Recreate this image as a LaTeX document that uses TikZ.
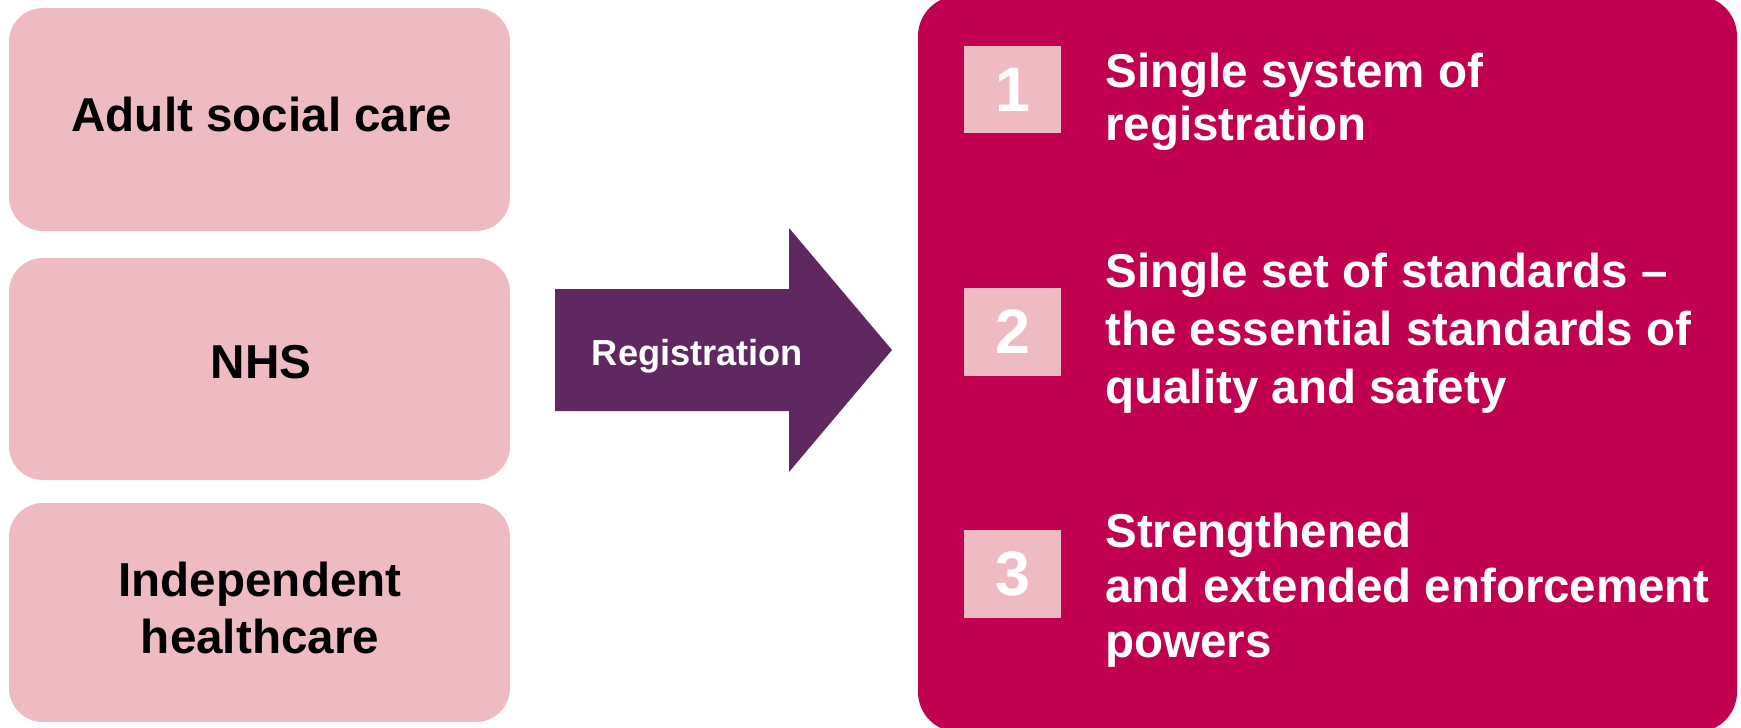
\documentclass[tikz,border=0pt]{standalone}
\usepackage{fontspec}
\setmainfont{Liberation Sans}
\definecolor{pinkbox}{RGB}{238,187,195}
\definecolor{magbox}{RGB}{194,0,80}
\definecolor{purparrow}{RGB}{95,40,97}
\tikzset{
  leftbox/.style={fill=pinkbox, draw=none, rounded corners=17pt, minimum width=250.5pt, inner sep=0pt, outer sep=0pt},
  lefttext/.style={font=\fontsize{23.8pt}{28.5pt}\selectfont\bfseries, text=black, inner sep=0pt},
  numbox/.style={fill=pinkbox, draw=none, minimum width=48.5pt, minimum height=44pt, inner sep=0pt, outer sep=0pt, text=white, font=\fontsize{31.4pt}{36pt}\selectfont\bfseries},
  itemtext/.style={font=\fontsize{23.75pt}{27.5pt}\selectfont\bfseries, text=white, inner sep=0pt},
  arrowtext/.style={font=\fontsize{18.1pt}{22pt}\selectfont\bfseries, text=white, inner sep=0pt}
}
\begin{document}
\begin{tikzpicture}[x=0.5pt,y=-0.5pt]
\useasboundingbox (0,0) rectangle (1741,728);
\clip (0,0) rectangle (1741,728);
\fill[white] (0,0) rectangle (1741,728);
% left boxes
\node[leftbox, minimum height=111.5pt] (b1) at (259.5,119.5) {};
\node[lefttext, anchor=base] (t1) at (262,131) {Adult social care};
\node[leftbox, minimum height=111pt] (b2) at (259.5,369) {};
\node[lefttext, anchor=base] (t2) at (261,378) {NHS};
\node[leftbox, minimum height=109.5pt] (b3) at (259.5,612.5) {};
\node[lefttext, anchor=base] (t3) at (260,596) {\vtop{\halign{\hfil#\hfil\cr Independent\cr healthcare\cr}}};
% arrow
\fill[purparrow] (555,289) -- (789,289) -- (789,228) -- (892,350) -- (789,472) -- (789,411) -- (555,411) -- cycle;
\node[arrowtext, anchor=base] (reg) at (697.5,365) {Registration};
% big box
\fill[magbox, rounded corners=20pt] (918,-4) rectangle (1737,732);
% numbered items
\node[numbox, minimum height=43.5pt] (n1) at (1012.5,89.5) {1};
\node[numbox] (n2) at (1012.5,332) {2};
\node[numbox] (n3) at (1012.5,574) {3};
\node[itemtext, anchor=base west] (i1) at (1105,87) {\vtop{\baselineskip=26.75pt\hbox{Single system of}\hbox{registration}}};
\node[itemtext, anchor=base west] (i2) at (1105,287) {\vtop{\baselineskip=29pt\hbox{Single set of standards –}\hbox{the essential standards of}\hbox{quality and safety}}};
\node[itemtext, anchor=base west] (i3) at (1105,547) {\vtop{\baselineskip=27.5pt\hbox{Strengthened}\hbox{and extended enforcement}\hbox{powers}}};
\end{tikzpicture}
\end{document}
